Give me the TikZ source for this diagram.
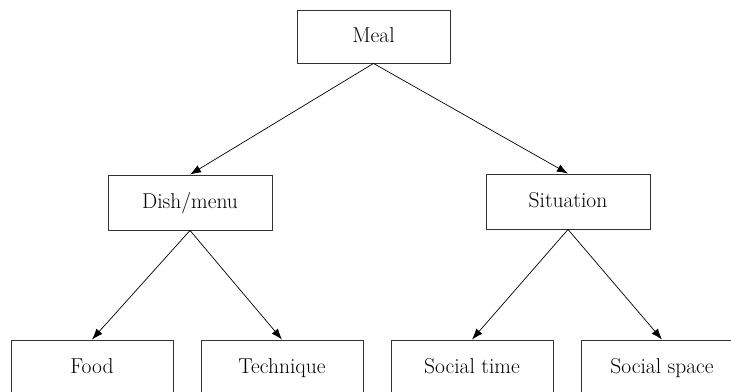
\documentclass[tikz,border=0pt]{standalone}
\usetikzlibrary{arrows.meta}
\begin{document}
\begin{tikzpicture}[x=1pt,y=-1pt,
  box/.style={draw=black!80, line width=0.9pt, minimum width=162pt, minimum height=55pt,
    inner sep=0pt, text height=15pt, text depth=4pt, font=\fontsize{21.5}{25}\selectfont},
  arr/.style={-{Latex[length=11pt,width=8pt]}, line width=0.7pt}]
\useasboundingbox (0,0) rectangle (731,391);
\clip (0,0) rectangle (731,391);
\node[box, minimum width=153pt, minimum height=53pt] (meal) at (373.5,36.5) {Meal};
\node[box, minimum width=164pt] (dish) at (190,202.5) {Dish/menu};
\node[box, minimum width=164pt] (sit) at (568,201.5) {Situation};
\node[box] (food) at (92,367.5) {Food};
\node[box] (tech) at (282,367.5) {Technique};
\node[box] (stime) at (472,367.5) {Social time};
\node[box] (sspace) at (662,367.5) {Social space};
\draw[arr] (meal.south) -- (dish.north);
\draw[arr] (meal.south) -- (sit.north);
\draw[arr] (dish.south) -- (food.north);
\draw[arr] (dish.south) -- (tech.north);
\draw[arr] (sit.south) -- (stime.north);
\draw[arr] (sit.south) -- (sspace.north);
\end{tikzpicture}
\end{document}
